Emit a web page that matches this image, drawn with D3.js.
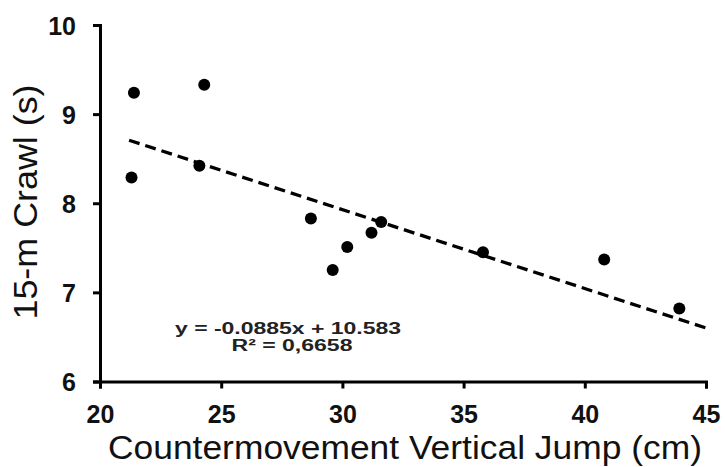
<!DOCTYPE html>
<html lang="en">
  <head>
    <meta charset="UTF-8" />
    <title>CMJ vs crawl</title>
    <script src="https://d3js.org/d3.v7.min.js"></script>
    <style>
      body { margin: 0; background: #fff; }
      svg { font-family: "Liberation Sans", Arial, sans-serif; }
    </style>
  </head>
  <body>
    <script>
      // values
      var jump = [21.3, 21.4, 24.1, 24.3, 28.7, 29.6, 30.2, 31.2, 31.6, 35.8, 40.8, 43.9];
      var crawl = [8.29, 9.24, 8.42, 9.33, 7.83, 7.25, 7.51, 7.67, 7.79, 7.45, 7.37, 6.82];
      var xTicks = [20, 25, 30, 35, 40, 45];
      var yTicks = [6, 7, 8, 9, 10];
      var slope = -0.0885,
        intercept = 10.583;
      var trendRange = [21.2, 45.05];
      var eqLines = ["y = -0.0885x + 10.583", "R\u00b2 = 0,6658"];

      var svg = d3
        .select("body")
        .append("svg")
        .attr("width", 725)
        .attr("height", 467);

      var x = d3.scaleLinear().domain([20, 45]).range([100, 706]);
      var y = d3.scaleLinear().domain([6, 10]).range([381.5, 25]);

      var xAxis = svg
        .append("g")
        .attr("transform", "translate(0," + y(6) + ")")
        .call(
          d3.axisBottom(x).tickValues(xTicks).tickFormat(d3.format("d")).tickSize(7).tickPadding(17)
        );

      var yAxis = svg
        .append("g")
        .attr("transform", "translate(" + x(20) + ",0)")
        .call(
          d3.axisLeft(y).tickValues(yTicks).tickFormat(d3.format("d")).tickSize(7).tickPadding(17)
        );

      [xAxis, yAxis].forEach(function (g) {
        g.selectAll("path, line").attr("stroke", "#000").attr("stroke-width", 3);
        g.selectAll("text")
          .attr("fill", "#111")
          .style("font-size", "25px")
          .style("font-weight", "bold");
      });
      xAxis.selectAll("text").attr("dy", "0.71em");
      yAxis.selectAll("text").attr("dy", "0.36em");

      // trend line
      var line = d3
        .line()
        .x(function (d) { return x(d); })
        .y(function (d) { return y(slope * d + intercept); });

      svg
        .append("path")
        .datum(trendRange)
        .attr("d", line)
        .attr("fill", "none")
        .attr("stroke", "#000")
        .attr("stroke-width", 3.3)
        .attr("stroke-dasharray", "11,6");

      svg
        .selectAll(".dot")
        .data(jump)
        .enter()
        .append("circle")
        .attr("class", "dot")
        .attr("cx", function (d) { return x(d); })
        .attr("cy", function (d, i) { return y(crawl[i]); })
        .attr("r", 6)
        .attr("fill", "#000");

      // equation
      svg
        .append("text")
        .attr("x", 288)
        .attr("y", 334)
        .attr("text-anchor", "middle")
        .attr("textLength", 226)
        .attr("lengthAdjust", "spacingAndGlyphs")
        .style("font-size", "16px")
        .style("font-weight", "bold")
        .attr("fill", "#222")
        .text(eqLines[0]);

      svg
        .append("text")
        .attr("x", 292)
        .attr("y", 351)
        .attr("text-anchor", "middle")
        .attr("textLength", 121)
        .attr("lengthAdjust", "spacingAndGlyphs")
        .style("font-size", "16px")
        .style("font-weight", "bold")
        .attr("fill", "#222")
        .text(eqLines[1]);

      // axis titles
      svg
        .append("text")
        .attr("x", 405)
        .attr("y", 459)
        .attr("text-anchor", "middle")
        .attr("textLength", 594)
        .attr("lengthAdjust", "spacingAndGlyphs")
        .style("font-size", "33px")
        .attr("fill", "#111")
        .text("Countermovement Vertical Jump (cm)");

      svg
        .append("text")
        .attr("transform", "translate(37,202) rotate(-90)")
        .attr("text-anchor", "middle")
        .attr("textLength", 235)
        .attr("lengthAdjust", "spacingAndGlyphs")
        .style("font-size", "33px")
        .attr("fill", "#111")
        .text("15-m Crawl (s)");
    </script>
  </body>
</html>
